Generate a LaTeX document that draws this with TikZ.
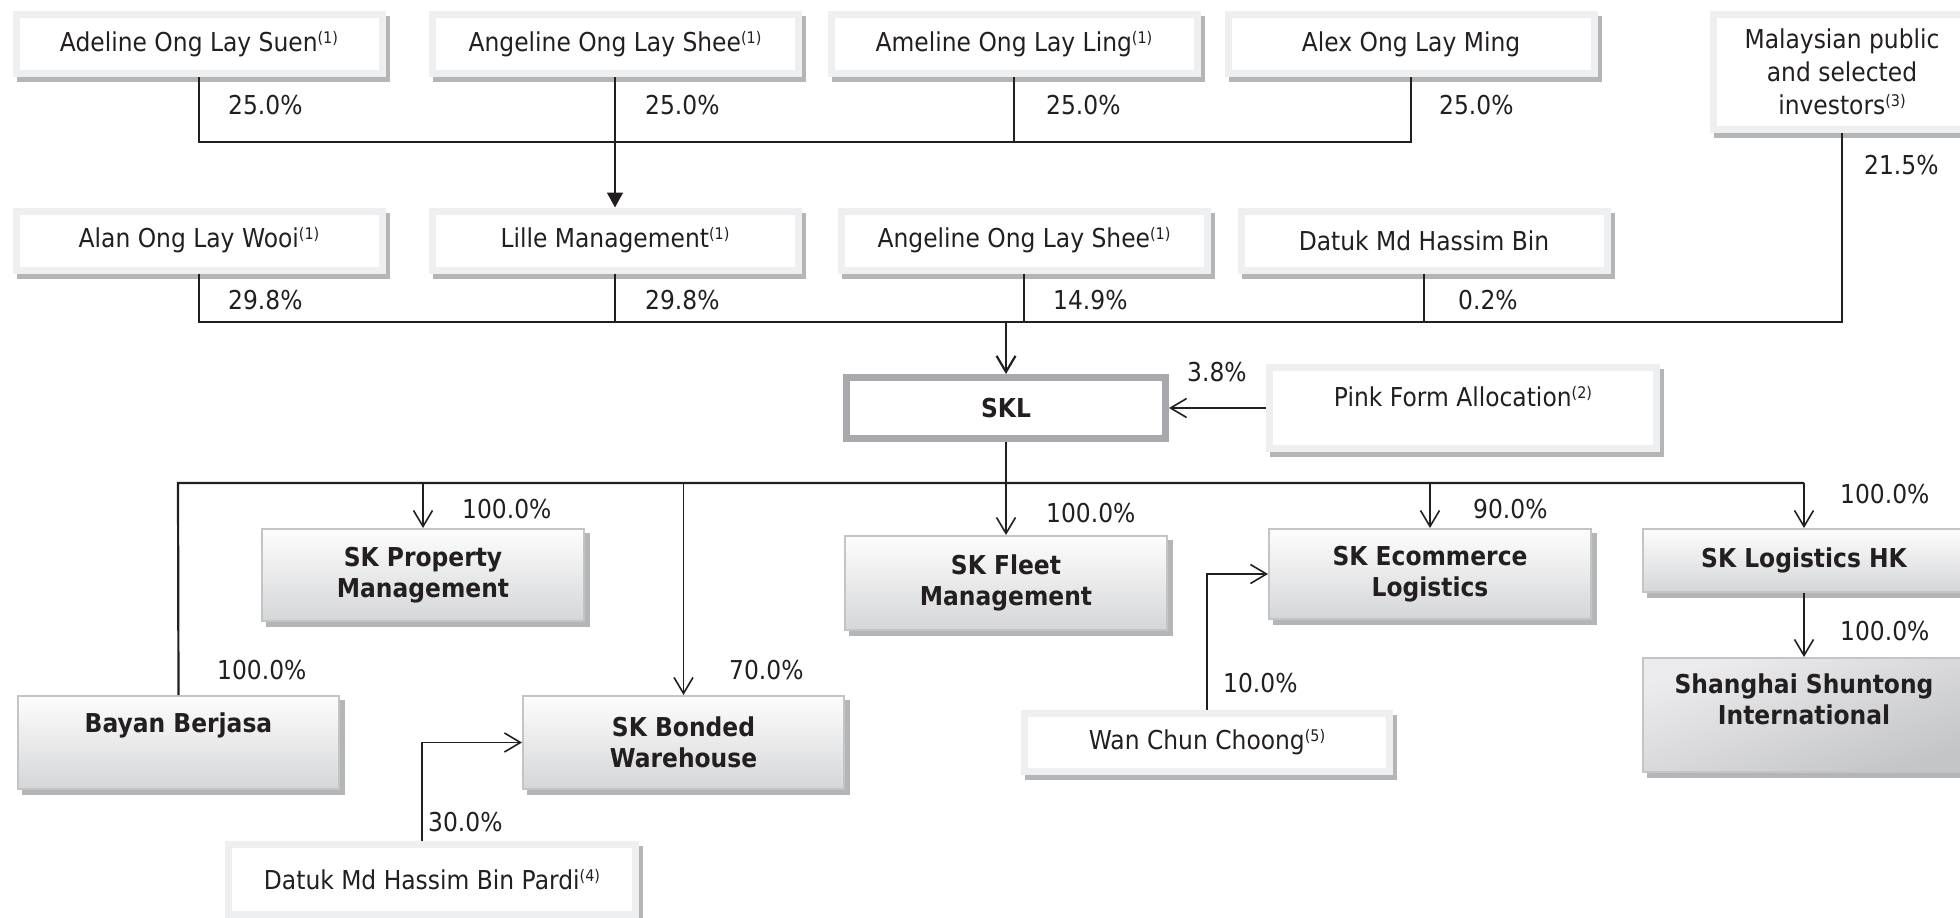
\documentclass[tikz,border=0pt]{standalone}
\usepackage{fontspec}
\setmainfont{DejaVu Sans}[FakeStretch=0.9]
\usetikzlibrary{arrows.meta,shadows}
\definecolor{txt}{HTML}{231F20}
\definecolor{rim}{HTML}{EEEFF1}
\definecolor{shadowc}{HTML}{B4B5B7}
\definecolor{comptop}{HTML}{FDFDFD}
\definecolor{compbot}{HTML}{D5D6D8}
\definecolor{comprim}{HTML}{C3C4C6}
\definecolor{sklrim}{HTML}{A7A9AC}
\definecolor{shA}{HTML}{C4C5C7}
\definecolor{shB}{HTML}{ECECEE}
\newcommand\fnote[1]{\raisebox{8pt}{\fontsize{16}{16}\selectfont(#1)}}
\begin{document}
\begin{tikzpicture}[x=1pt,y=-1pt,
  every node/.style={text=txt, font=\fontsize{26}{31}\selectfont},
  person/.style={draw=rim, line width=7pt, fill=white, inner sep=3pt,
     drop shadow={shadow xshift=4pt, shadow yshift=-5pt, opacity=1, fill=shadowc, draw=shadowc, line width=7pt}},
  prow/.style={person, minimum width=366pt, minimum height=59pt},
  company/.style={draw=comprim, line width=2pt, top color=comptop, bottom color=compbot, align=center,
     font=\fontsize{26}{31}\selectfont\bfseries, inner sep=3pt,
     drop shadow={shadow xshift=5pt, shadow yshift=-5pt, opacity=1, fill=shadowc, draw=shadowc, line width=2pt}},
  pct/.style={anchor=west, inner sep=0pt},
  bus/.style={draw=txt, line width=2.2pt},
  branch/.style={draw=txt, line width=1.6pt},
  arr/.style={-{Straight Barb[length=16pt,width=19pt]}},
  farr/.style={-{Triangle[length=15pt,width=16pt]}},
]
\useasboundingbox (0,0) rectangle (1960,918);

% ---- row 1 ----
\node[prow] (adeline)   at (199,44)  {Adeline Ong Lay Suen\fnote{1}};
\node[prow] (angelineA) at (615,44)  {Angeline Ong Lay Shee\fnote{1}};
\node[prow] (ameline)   at (1014,44) {Ameline Ong Lay Ling\fnote{1}};
\node[prow] (alex)      at (1411,44) {Alex Ong Lay Ming};
\node[person, minimum width=258pt, minimum height=115pt, align=center, font=\fontsize{26}{33}\selectfont] (malay) at (1842,72)
   {Malaysian public\\and selected\\investors\fnote{3}};

% ---- row 2 ----
\node[prow] (alan)      at (199,240.5)  {Alan Ong Lay Wooi\fnote{1}};
\node[prow] (lille)     at (615,240.5)  {Lille Management\fnote{1}};
\node[prow] (angelineB) at (1024,240.5) {Angeline Ong Lay Shee\fnote{1}};
\node[prow] (datuk)     at (1424,240.5) {Datuk Md Hassim Bin};

% ---- SKL and pink form ----
\node[draw=sklrim, line width=7pt, fill=white, minimum width=319pt, minimum height=61pt, font=\fontsize{26}{31}\selectfont\bfseries] (skl) at (1006,408) {SKL};
\node[person, minimum width=387pt, minimum height=81pt, text height=20pt, text depth=23pt] (pink) at (1463,408) {Pink Form Allocation\fnote{2}};

% ---- subsidiaries ----
\node[company, minimum width=322pt, minimum height=92pt] (property) at (423,575) {SK Property\\Management};
\node[company, minimum width=321pt, minimum height=93pt] (bonded) at (683.5,742.5) {SK Bonded\\Warehouse};
\node[company, minimum width=322pt, minimum height=94pt] (fleet) at (1006,583) {SK Fleet\\Management};
\node[company, minimum width=322pt, minimum height=90pt] (ecom) at (1430,574) {SK Ecommerce\\Logistics};
\node[company, minimum width=322pt, minimum height=63pt] (hk) at (1804,560.5) {SK Logistics HK};
\node[company, minimum width=322pt, minimum height=114pt, top color=shB, bottom color=shA, shading angle=20] (shanghai) at (1804,715) {Shanghai Shuntong\\International\\\mbox{}};
\node[company, minimum width=321pt, minimum height=93pt, align=left, text height=20pt, text depth=41pt] (bayan) at (178.5,742.5) {Bayan Berjasa};

% ---- minority holders ----
\node[person, minimum width=365pt, minimum height=58pt] (wan) at (1207,742) {Wan Chun Choong\fnote{5}};
\node[person, minimum width=407pt, minimum height=70pt] (pardi) at (432,879.5) {Datuk Md Hassim Bin Pardi\fnote{4}};

% ---- coordinates of buses ----
\coordinate (b1L) at (199,142);
\coordinate (b1R) at (1411,142);
\coordinate (b2L) at (199,322);
\coordinate (b2R) at (1842,322);
\coordinate (b3L) at (178,483);
\coordinate (b3R) at (1804,483);

% ---- row 1 connectors ----
\draw[bus] (adeline.south) -- (b1L) -- (b1R) -- (alex.south);
\draw[branch] (ameline.south) -- (ameline.south |- b1L);
\draw[branch, farr] (angelineA.south) -- (lille.north);

% ---- row 2 connectors ----
\draw[bus] (alan.south) -- (b2L) -- (b2R) -- (malay.south);
\draw[branch] (lille.south) -- (lille.south |- b2L);
\draw[branch] (angelineB.south) -- (angelineB.south |- b2L);
\draw[branch] (datuk.south) -- (datuk.south |- b2L);
\draw[bus, arr] (skl.north |- b2L) -- (skl.north);

% ---- SKL connectors ----
\draw[branch, arr] (pink.west) -- (skl.east);
\draw[bus] (skl.south) -- (skl.south |- b3L);
\draw[bus] (bayan.north) -- (b3L) -- (b3R);
\draw[branch, arr] (b3R) -- (hk.north);
\draw[branch, arr] (property.north |- b3L) -- (property.north);
\draw[branch, arr] (bonded.north |- b3L) -- (bonded.north);
\draw[branch, arr] (fleet.north |- b3L) -- (fleet.north);
\draw[branch, arr] (ecom.north |- b3L) -- (ecom.north);
\draw[branch, arr] (hk.south) -- (shanghai.north);
\draw[branch, arr] (wan.north) |- (ecom.west);
\draw[branch, arr] ([xshift=-10pt]pardi.north) |- (bonded.west);

% ---- percentages ----
\node[pct] (p1) at (228,105) {25.0\%};
\node[pct] (p2) at (645,105) {25.0\%};
\node[pct] (p3) at (1046,105) {25.0\%};
\node[pct] (p4) at (1439,105) {25.0\%};
\node[pct] (p5) at (228,300) {29.8\%};
\node[pct] (p6) at (645,300) {29.8\%};
\node[pct] (p7) at (1053,300) {14.9\%};
\node[pct] (p8) at (1458,300) {0.2\%};
\node[pct] (p9) at (1864,165) {21.5\%};
\node[pct] (p10) at (1187,372) {3.8\%};
\node[pct] (p11) at (462,509) {100.0\%};
\node[pct] (p12) at (1046,513) {100.0\%};
\node[pct] (p13) at (1473,509) {90.0\%};
\node[pct] (p14) at (1840,494) {100.0\%};
\node[pct] (p15) at (1840,631) {100.0\%};
\node[pct] (p16) at (217,670) {100.0\%};
\node[pct] (p17) at (729,670) {70.0\%};
\node[pct] (p18) at (1223,683) {10.0\%};
\node[pct] (p19) at (428,822) {30.0\%};
\end{tikzpicture}
\end{document}
